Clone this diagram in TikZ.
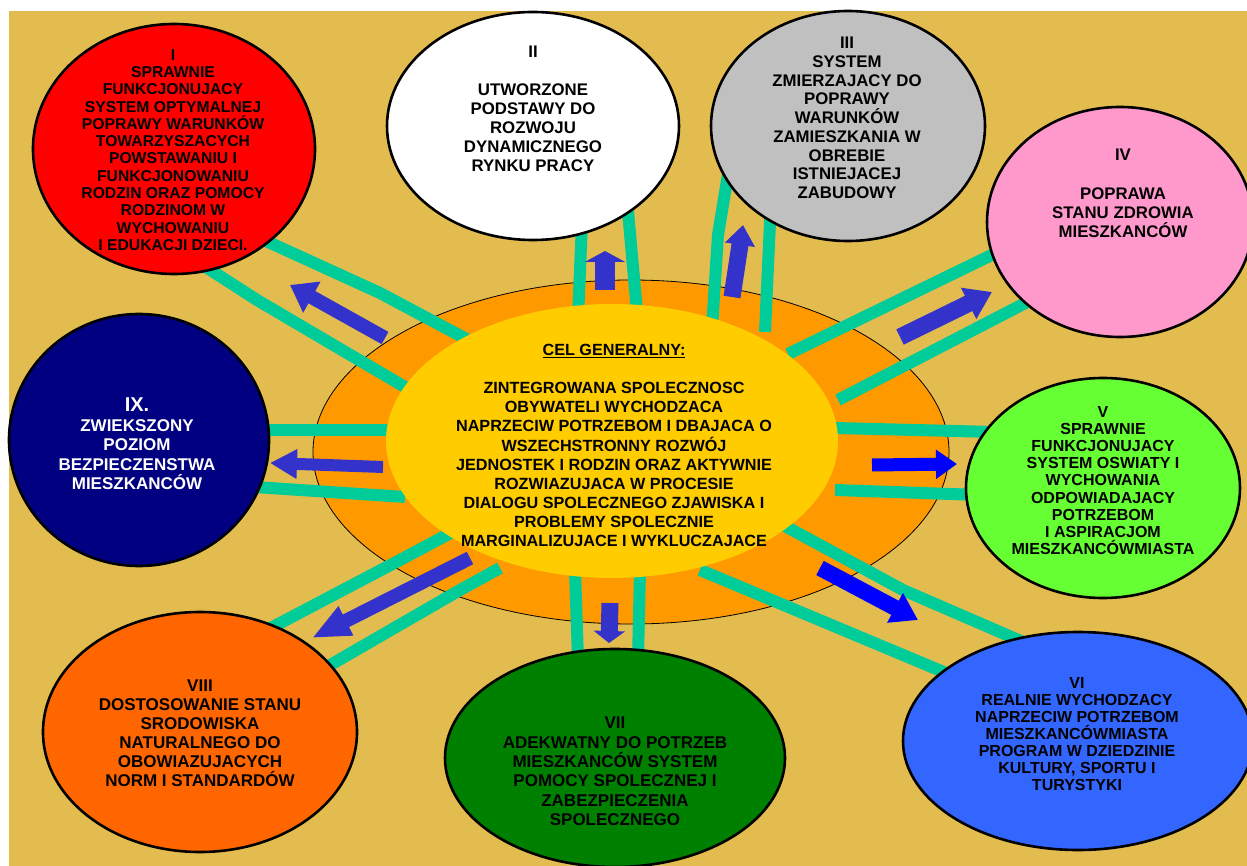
\documentclass[tikz,border=0pt]{standalone}
\usepackage{fontspec}
\setmainfont{Liberation Sans}
\usetikzlibrary{shapes.geometric,arrows.meta}
\definecolor{bg}{HTML}{E3BC50}
\definecolor{corange}{HTML}{FF9900}
\definecolor{cyellow}{HTML}{FFCC00}
\definecolor{cteal}{HTML}{00CC99}
\definecolor{cred}{HTML}{FF0000}
\definecolor{cgray}{HTML}{C0C0C0}
\definecolor{cpink}{HTML}{FF99CC}
\definecolor{cgreen}{HTML}{66FF33}
\definecolor{cblue}{HTML}{3366FF}
\definecolor{cdkgreen}{HTML}{008000}
\definecolor{cdkorange}{HTML}{FF6600}
\definecolor{cnavy}{HTML}{000080}
\definecolor{arrA}{HTML}{3333CC}
\definecolor{arrB}{HTML}{0000FF}
\begin{document}
\begin{tikzpicture}[x=1pt,y=-1pt,
  sat/.style={ellipse, draw=black, line width=2.6pt, inner sep=0pt},
  tealln/.style={draw=cteal, line width=12pt, line cap=butt, line join=round},
  txt/.style={align=center, inner sep=0pt, text=black},
  barrow/.style={line width=#1, line cap=butt}]
\useasboundingbox (0,0) rectangle (1247,866);
\fill[white] (0,0) rectangle (1247,866);
\fill[bg] (9,11) rectangle (1247,866);

% central orange ellipse
\node[ellipse, fill=corange, draw=black, line width=0.8pt, inner sep=0pt, minimum width=636pt, minimum height=344pt] (c0) at (631,452) {};

% connector coordinates
\coordinate (l1a) at (255,236); \coordinate (l1m) at (380,293); \coordinate (l1b) at (472,342);
\coordinate (l2a) at (198,262); \coordinate (l2m) at (257,300); \coordinate (l2b) at (410,390);
\coordinate (l3a) at (582,222); \coordinate (l3b) at (578,318);
\coordinate (l4a) at (627,200); \coordinate (l4b) at (637,312);
\coordinate (l5a) at (732,150); \coordinate (l5m) at (718,235); \coordinate (l5b) at (712,328);
\coordinate (l6a) at (771,200); \coordinate (l6b) at (765,332);
\coordinate (l7a) at (1002,250); \coordinate (l7b) at (788,354);
\coordinate (l8a) at (1035,298); \coordinate (l8b) at (838,400);
\coordinate (l9a) at (995,432); \coordinate (l9b) at (835,428);
\coordinate (l10a) at (980,495); \coordinate (l10b) at (835,490);
\coordinate (l11a) at (1030,645); \coordinate (l11m) at (903,590); \coordinate (l11b) at (770,518);
\coordinate (l12a) at (958,678); \coordinate (l12b) at (700,570);
\coordinate (l13a) at (578,660); \coordinate (l13b) at (575,570);
\coordinate (l14a) at (638,660); \coordinate (l14b) at (640,570);
\coordinate (l15a) at (265,631); \coordinate (l15m) at (400,560); \coordinate (l15b) at (460,528);
\coordinate (l16a) at (325,668); \coordinate (l16m) at (460,590); \coordinate (l16b) at (500,568);
\coordinate (l17a) at (265,430); \coordinate (l17b) at (400,430);
\coordinate (l18a) at (255,487); \coordinate (l18b) at (405,497);

\draw[tealln] (l1a) -- (l1m) -- (l1b);
\draw[tealln] (l2a) -- (l2m) -- (l2b);
\draw[tealln] (l3a) -- (l3b);
\draw[tealln] (l4a) -- (l4b);
\draw[tealln] (l5a) -- (l5m) -- (l5b);
\draw[tealln] (l6a) -- (l6b);
\draw[tealln] (l7a) -- (l7b);
\draw[tealln] (l8a) -- (l8b);
\draw[tealln] (l9a) -- (l9b);
\draw[tealln] (l10a) -- (l10b);
\draw[tealln] (l11a) -- (l11m) -- (l11b);
\draw[tealln] (l12a) -- (l12b);
\draw[tealln] (l13a) -- (l13b);
\draw[tealln] (l14a) -- (l14b);
\draw[tealln] (l15a) -- (l15m) -- (l15b);
\draw[tealln] (l16a) -- (l16m) -- (l16b);
\draw[tealln] (l17a) -- (l17b);
\draw[tealln] (l18a) -- (l18b);

% central yellow ellipse
\node[ellipse, fill=cyellow, inner sep=0pt, minimum width=452pt, minimum height=274pt] (c1) at (612,441) {};

% satellites
\node[sat, fill=cred, minimum width=282pt, minimum height=250pt] (n1) at (174,149) {};
\node[sat, fill=white, minimum width=292pt, minimum height=228pt] (n2) at (533,126) {};
\node[sat, fill=cgray, minimum width=274pt, minimum height=230pt] (n3) at (848,126) {};
\node[sat, fill=cpink, minimum width=266pt, minimum height=230pt] (n4) at (1120,222) {};
\node[sat, fill=cgreen, minimum width=274pt, minimum height=220pt] (n5) at (1103,488) {};
\node[sat, fill=cblue, minimum width=350pt, minimum height=218pt] (n6) at (1078,741) {};
\node[sat, fill=cdkgreen, minimum width=340pt, minimum height=218pt] (n7) at (615,758) {};
\node[sat, fill=cdkorange, minimum width=314pt, minimum height=240pt] (n8) at (200,732) {};
\node[sat, fill=cnavy, minimum width=260pt, minimum height=252pt] (n9) at (139,440) {};

% arrows
\coordinate (a1s) at (385,338); \coordinate (a1e) at (290,285);
\coordinate (a2s) at (605,290); \coordinate (a2e) at (605,251);
\coordinate (a3s) at (732,297); \coordinate (a3e) at (743,225);
\coordinate (a4s) at (900,337); \coordinate (a4e) at (992,292);
\coordinate (a5s) at (872,465); \coordinate (a5e) at (957,464);
\coordinate (a6s) at (820,568); \coordinate (a6e) at (918,620);
\coordinate (a7s) at (610,603); \coordinate (a7e) at (609,643);
\coordinate (a8s) at (470,558); \coordinate (a8e) at (312,638);
\coordinate (a9s) at (383,467); \coordinate (a9e) at (270,463);

\draw[barrow=14pt, draw=arrA, -{Triangle[length=25pt,width=34pt]}] (a1s) -- (a1e);
\draw[barrow=20pt, draw=arrA, -{Triangle[length=11pt,width=40pt]}] (a2s) -- (a2e);
\draw[barrow=17pt, draw=arrA, -{Triangle[length=20pt,width=29pt]}] (a3s) -- (a3e);
\draw[barrow=17pt, draw=arrA, -{Triangle[length=26pt,width=33pt]}] (a4s) -- (a4e);
\draw[barrow=13pt, draw=arrB, -{Triangle[length=21pt,width=28pt]}] (a5s) -- (a5e);
\draw[barrow=16pt, draw=arrB, -{Triangle[length=26pt,width=32pt]}] (a6s) -- (a6e);
\draw[barrow=17pt, draw=arrA, -{Triangle[length=12pt,width=31pt]}] (a7s) -- (a7e);
\draw[barrow=14pt, draw=arrA, -{Triangle[length=38pt,width=30pt]}] (a8s) -- (a8e);
\draw[barrow=12pt, draw=arrA, -{Triangle[length=27pt,width=28pt]}] (a9s) -- (a9e);

% texts
\node[txt, font=\fontsize{15.7}{17.3}\selectfont\bfseries] (t1) at (173,150)
  {I\\SPRAWNIE\\FUNKCJONUJACY\\SYSTEM OPTYMALNEJ\\POPRAWY WARUNKÓW\\TOWARZYSZACYCH\\POWSTAWANIU I\\FUNKCJONOWANIU\\RODZIN ORAZ POMOCY\\RODZINOM W\\WYCHOWANIU\\I EDUKACJI DZIECI.};
\node[txt, font=\fontsize{16.8}{19}\selectfont\bfseries] (t2) at (533,109)
  {II\\[19pt]UTWORZONE\\PODSTAWY DO\\ROZWOJU\\DYNAMICZNEGO\\RYNKU PRACY};
\node[txt, font=\fontsize{16.8}{18.75}\selectfont\bfseries] (t3) at (847,118)
  {III\\SYSTEM\\ZMIERZAJACY DO\\POPRAWY\\WARUNKÓW\\ZAMIESZKANIA W\\OBREBIE\\ISTNIEJACEJ\\ZABUDOWY};
\node[txt, font=\fontsize{16.8}{19.25}\selectfont\bfseries] (t4) at (1123,193.5)
  {IV\\[19.25pt]POPRAWA\\STANU ZDROWIA\\MIESZKANCÓW};
\node[txt, font=\fontsize{16}{17.1}\selectfont\bfseries] (t5) at (1103,480.5)
  {V\\SPRAWNIE\\FUNKCJONUJACY\\SYSTEM OSWIATY I\\WYCHOWANIA\\ODPOWIADAJACY\\POTRZEBOM\\I ASPIRACJOM\\MIESZKANCÓWMIASTA};
\node[txt, font=\fontsize{16}{17}\selectfont\bfseries] (t6) at (1077,734)
  {VI\\REALNIE WYCHODZACY\\NAPRZECIW POTRZEBOM\\MIESZKANCÓWMIASTA\\PROGRAM W DZIEDZINIE\\KULTURY, SPORTU I\\TURYSTYKI};
\node[txt, font=\fontsize{17}{19.4}\selectfont\bfseries] (t7) at (615,771.5)
  {VII\\ADEKWATNY DO POTRZEB\\MIESZKANCÓW SYSTEM\\POMOCY SPOLECZNEJ I\\ZABEZPIECZENIA\\SPOLECZNEGO};
\node[txt, font=\fontsize{17}{19}\selectfont\bfseries] (t8) at (200,733.5)
  {VIII\\DOSTOSOWANIE STANU\\SRODOWISKA\\NATURALNEGO DO\\OBOWIAZUJACYCH\\NORM I STANDARDÓW};
\node[txt, text=white, font=\fontsize{17}{19.5}\selectfont\bfseries] (t9) at (137,444)
  {{\fontsize{20}{20}\selectfont IX.}\\ZWIEKSZONY\\POZIOM\\BEZPIECZENSTWA\\MIESZKANCÓW};
\node[txt, font=\fontsize{16.2}{19.1}\selectfont\bfseries] (t0) at (614,445.5)
  {\underline{CEL GENERALNY:}\\[19.1pt]ZINTEGROWANA SPOLECZNOSC\\OBYWATELI WYCHODZACA\\NAPRZECIW POTRZEBOM I DBAJACA O\\WSZECHSTRONNY ROZWÓJ\\JEDNOSTEK I RODZIN ORAZ AKTYWNIE\\ROZWIAZUJACA W PROCESIE\\DIALOGU SPOLECZNEGO ZJAWISKA I\\PROBLEMY SPOLECZNIE\\MARGINALIZUJACE I WYKLUCZAJACE};
\end{tikzpicture}
\end{document}
